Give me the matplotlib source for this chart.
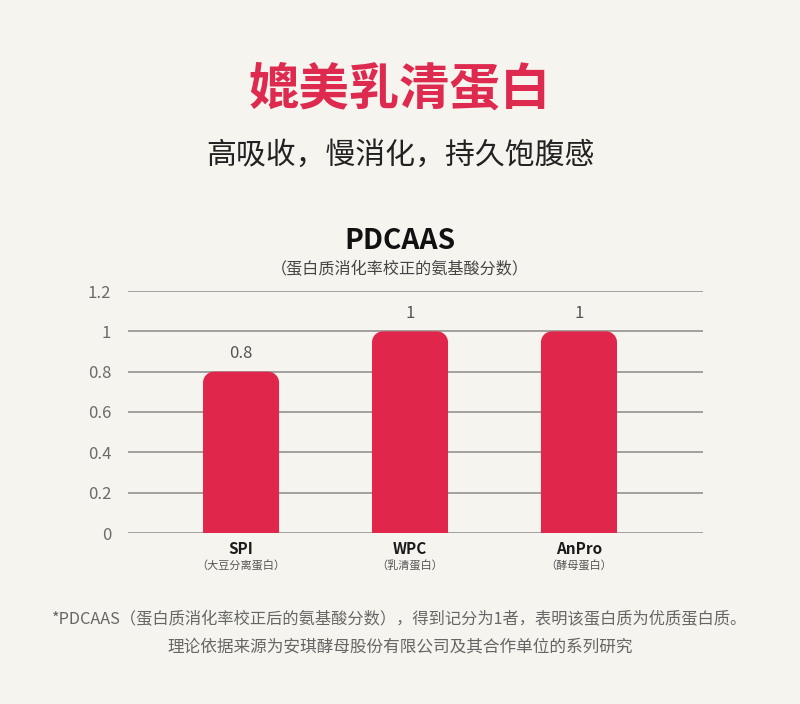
import matplotlib
matplotlib.use("Agg")
import numpy as np
import matplotlib.pyplot as plt
from matplotlib.patches import PathPatch
from matplotlib.path import Path
import matplotlib.transforms as mtransforms

plt.rcParams['font.family'] = ['Noto Sans CJK SC', 'DejaVu Sans']

categories = ["SPI", "WPC", "AnPro"]
sub_labels = ["（大豆分离蛋白）", "（乳清蛋白）", "（酵母蛋白）"]
values = [0.8, 1, 1]
value_labels = ["0.8", "1", "1"]
yticks = [0, 0.2, 0.4, 0.6, 0.8, 1, 1.2]
ytick_labels = ["0", "0.2", "0.4", "0.6", "0.8", "1", "1.2"]

BG = "#f6f4ef"
RED = "#e0274b"
TITLE_RED = "#de2a4f"

fig = plt.figure(figsize=(8, 7.04), dpi=100)
fig.patch.set_facecolor(BG)
ax = fig.add_axes([0.16, 1 - 533 / 704, (703 - 128) / 800, (533 - 291) / 704])
ax.set_facecolor(BG)
ax.set_axisbelow(True)

x = list(range(len(categories)))
ax.set_xlim(-0.669, 2.734)
ax.set_ylim(0, 1.2)
ax.set_yticks(yticks)
ax.set_yticklabels(ytick_labels, fontsize=12, color="#6b6b6b")
ax.tick_params(axis='y', length=0, pad=12)
ax.set_xticks([])
ax.yaxis.grid(True, color="#8a8a8a", lw=1.1, zorder=0)
for s in ax.spines.values():
    s.set_visible(False)

# rounded-top bars (circular corners in pixel space)
width = 0.45
px_per_x = ax.bbox.width / (ax.get_xlim()[1] - ax.get_xlim()[0])
px_per_y = ax.bbox.height / (ax.get_ylim()[1] - ax.get_ylim()[0])
r_px = 11
rx = r_px / px_per_x
ry = r_px / px_per_y
for xi, v in zip(x, values):
    bx = xi - width / 2
    verts = [(bx, 0)]
    for t in np.linspace(np.pi, np.pi / 2, 12):
        verts.append((bx + rx + rx * np.cos(t), v - ry + ry * np.sin(t)))
    for t in np.linspace(np.pi / 2, 0, 12):
        verts.append((bx + width - rx + rx * np.cos(t), v - ry + ry * np.sin(t)))
    verts.append((bx + width, 0))
    verts.append((bx, 0))
    codes = [Path.MOVETO] + [Path.LINETO] * (len(verts) - 2) + [Path.CLOSEPOLY]
    ax.add_patch(PathPatch(Path(verts, codes), facecolor=RED, edgecolor="none",
                           lw=0, zorder=3))

for xi, v, lab in zip(x, values, value_labels):
    ax.annotate(lab, (xi, v), xytext=(0, 7), textcoords="offset points",
                ha="center", va="bottom", fontsize=12, color="#555555")

trans = mtransforms.blended_transform_factory(ax.transData, fig.transFigure)
for xi, c, s in zip(x, categories, sub_labels):
    ax.text(xi, 1 - 549 / 704, c, transform=trans, ha="center", va="center",
            fontsize=11, fontweight="bold", color="#1a1a1a")
    ax.text(xi, 1 - 566 / 704, s, transform=trans, ha="center", va="center",
            fontsize=8, color="#555555")

fig.text(0.5, 1 - 90 / 704, "媲美乳清蛋白", ha="center", va="center",
         fontsize=36.3, fontweight="bold", color=TITLE_RED)
fig.text(0.5, 1 - 155 / 704, "高吸收，慢消化，持久饱腹感", ha="center", va="center",
         fontsize=21.5, color="#222222")
fig.text(0.5, 1 - 241 / 704, "PDCAAS", ha="center", va="center",
         fontsize=20.3, fontweight="bold", color="#111111")
fig.text(0.5, 1 - 270 / 704, "（蛋白质消化率校正的氨基酸分数）", ha="center", va="center",
         fontsize=11.6, color="#444444")
fig.text(0.5, 1 - 620 / 704,
         "*PDCAAS（蛋白质消化率校正后的氨基酸分数），得到记分为1者，表明该蛋白质为优质蛋白质。",
         ha="center", va="center", fontsize=11.7, color="#666666")
fig.text(0.5, 1 - 647 / 704, "理论依据来源为安琪酵母股份有限公司及其合作单位的系列研究",
         ha="center", va="center", fontsize=12, color="#666666")

fig.savefig("out.png", dpi=100, facecolor=BG)
